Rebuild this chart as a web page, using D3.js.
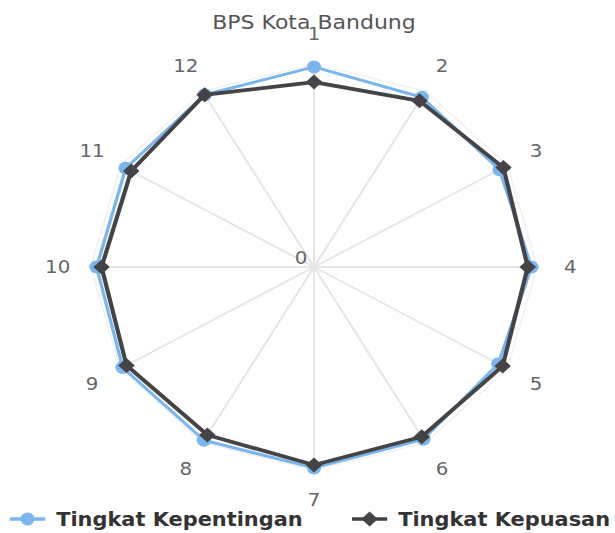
<!DOCTYPE html>
<html>
<head>
<meta charset="utf-8">
<script src="https://cdn.jsdelivr.net/npm/d3@7"></script>
<style>
  body { margin: 0; background: #fff; }
  text { font-family: "DejaVu Sans", sans-serif; }
</style>
</head>
<body>
<div id="container"></div>
<script>
// chart data
const categories = ['1', '2', '3', '4', '5', '6', '7', '8', '9', '10', '11', '12'];
const kepentingan = [4.88, 4.78, 4.75, 4.82, 4.72, 4.85, 4.90, 4.88, 4.90, 4.82, 4.82, 4.85];
const kepuasan = [4.51, 4.68, 4.85, 4.74, 4.83, 4.78, 4.83, 4.73, 4.80, 4.71, 4.68, 4.85];
const radialTicks = [0];
const seriesNames = ['Tingkat Kepentingan', 'Tingkat Kepuasan'];
const seriesColors = ['#7cb5ec', '#434348'];

// constants (the picture is stretched a bit horizontally)
const WIDTH = 615;
const HEIGHT = 533;
const STRETCH = 1.1;
const CX = 314 / STRETCH;
const CY = 267;
const RADIUS = 205;
const MAX_VALUE = 5;

const svg = d3.select("#container")
    .append("svg")
    .attr("width", WIDTH)
    .attr("height", HEIGHT);

const root = svg.append("g")
    .attr("transform", "scale(" + STRETCH + ",1)");

// title
root.append("text")
    .attr("x", CX)
    .attr("y", 29)
    .attr("text-anchor", "middle")
    .attr("font-size", 20)
    .attr("fill", "#555")
    .text("BPS Kota Bandung");

const rScale = d3.scaleLinear()
    .domain([0, MAX_VALUE])
    .range([0, RADIUS]);

const angle = d3.scalePoint()
    .domain(categories)
    .range([0, 2 * Math.PI * (categories.length - 1) / categories.length]);

const chart = root.append("g")
    .attr("transform", "translate(" + CX + "," + CY + ")");

// spokes
chart.selectAll(".spoke")
    .data(categories)
    .enter()
    .append("line")
    .attr("class", "spoke")
    .attr("x1", 0)
    .attr("y1", 0)
    .attr("x2", (d) => rScale(MAX_VALUE) * Math.sin(angle(d)))
    .attr("y2", (d) => -rScale(MAX_VALUE) * Math.cos(angle(d)))
    .attr("stroke", "#e6e6e6")
    .attr("stroke-width", 2);

// outer grid polygon (very faint)
const gridLine = d3.lineRadial()
    .angle((d) => angle(d))
    .radius(() => rScale(MAX_VALUE) - 2)
    .curve(d3.curveLinearClosed);

chart.append("path")
    .attr("d", gridLine(categories))
    .attr("fill", "none")
    .attr("stroke", "#f2f2f2")
    .attr("stroke-width", 1.5);

// radial axis label
chart.selectAll(".rlabel")
    .data(radialTicks)
    .enter()
    .append("text")
    .attr("class", "rlabel")
    .attr("x", -6)
    .attr("y", (d) => -rScale(d) - 3)
    .attr("text-anchor", "end")
    .attr("font-size", 18)
    .attr("fill", "#666")
    .text((d) => d);

// category labels
chart.selectAll(".clabel")
    .data(categories)
    .enter()
    .append("text")
    .attr("class", "clabel")
    .attr("x", (d) => 233 * Math.sin(angle(d)))
    .attr("y", (d) => -233 * Math.cos(angle(d)))
    .attr("dy", "0.35em")
    .attr("text-anchor", "middle")
    .attr("font-size", 18)
    .attr("fill", "#666")
    .text((d) => d);

// series
const seriesData = [kepentingan, kepuasan];

const line = d3.lineRadial()
    .angle((d, i) => angle(categories[i]))
    .radius((d) => rScale(d))
    .curve(d3.curveLinearClosed);

const diamond = (s) => "M0," + (-s) + "L" + s + ",0L0," + s + "L" + (-s) + ",0Z";

seriesData.forEach((values, k) => {
    chart.append("path")
        .attr("d", line(values))
        .attr("fill", "none")
        .attr("stroke", seriesColors[k])
        .attr("stroke-width", k === 0 ? 3 : 3.8)
        .attr("stroke-linejoin", "round");

    const marks = chart.selectAll(".mark" + k)
        .data(values)
        .enter()
        .append("g")
        .attr("class", "mark" + k)
        .attr("transform", (d, i) => "translate(" +
            rScale(d) * Math.sin(angle(categories[i])) + "," +
            (-rScale(d) * Math.cos(angle(categories[i]))) + ")");

    if (k === 0) {
        marks.append("circle").attr("r", 6.5).attr("fill", seriesColors[k]);
    } else {
        marks.append("path").attr("d", diamond(7.5)).attr("fill", seriesColors[k]);
    }
});

// legend
const legendY = 519;
const legendX = [10 / STRETCH, 352 / STRETCH];

seriesNames.forEach((name, k) => {
    const item = root.append("g")
        .attr("transform", "translate(" + legendX[k] + "," + legendY + ")");
    item.append("line")
        .attr("x1", 0)
        .attr("x2", 32)
        .attr("stroke", seriesColors[k])
        .attr("stroke-width", 3.5);
    if (k === 0) {
        item.append("circle").attr("cx", 16).attr("r", 6.5).attr("fill", seriesColors[k]);
    } else {
        item.append("path")
            .attr("transform", "translate(16,0)")
            .attr("d", diamond(7.5))
            .attr("fill", seriesColors[k]);
    }
    item.append("text")
        .attr("x", 42)
        .attr("dy", "0.35em")
        .attr("font-size", 19)
        .attr("font-weight", "bold")
        .attr("fill", "#333")
        .text(name);
});
</script>
</body>
</html>
